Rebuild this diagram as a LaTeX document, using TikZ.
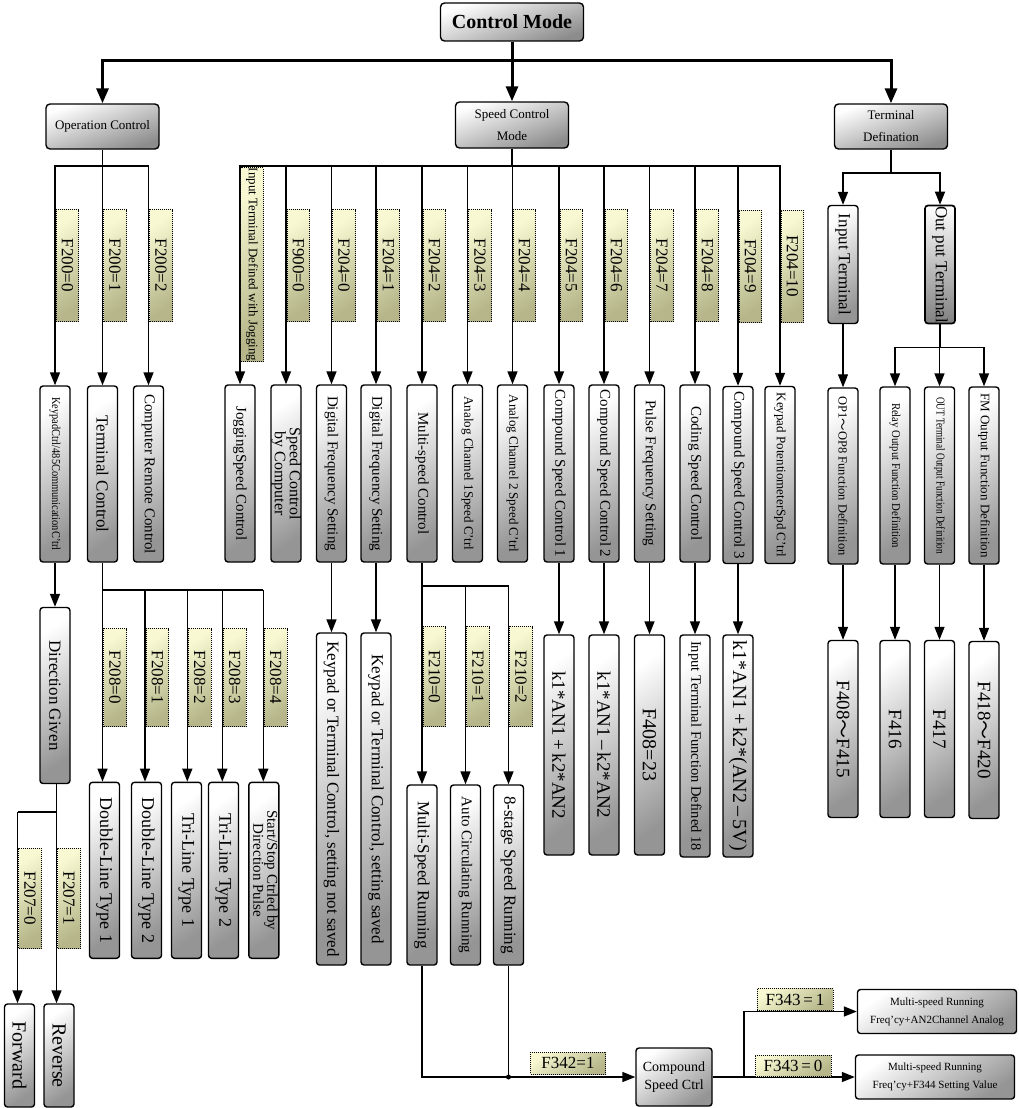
\documentclass[tikz,border=0pt]{standalone}
\usepackage{fontspec}
\setmainfont{Liberation Serif}
\newfontfamily\cjk{Noto Sans CJK SC}
\usepackage{graphicx}
\usetikzlibrary{arrows.meta}
\newcommand\rt[1]{\rotatebox{-90}{#1}}
\newcommand\rtt[2]{\rotatebox{-90}{\begin{tabular}{@{}c@{}}#1\\#2\end{tabular}}}
\newcommand\sqz[2]{\resizebox{#1}{\height}{#2}}
\newcommand\tld{{\cjk ～}}
\newcommand\fs[2]{\fontsize{#1}{#2}\selectfont}
\definecolor{labA}{HTML}{F8F8D2}
\definecolor{labB}{HTML}{B6B68A}
\definecolor{boxB}{HTML}{959595}
\begin{document}
\begin{tikzpicture}[x=1pt,y=-1pt,
  gbox/.style={draw, line width=1.4pt, rounded corners=3pt, inner sep=0pt, top color=white, bottom color=boxB, shading angle=35},
  vb/.style={gbox, minimum width=30pt, font=\fs{15}{17}},
  hb/.style={gbox, rounded corners=4pt, align=center, bottom color=black!45, shading angle=20},
  lab/.style={draw, line width=0.9pt, dash pattern=on 1pt off 1pt, inner sep=0pt, minimum width=22.5pt, top color=labA, bottom color=labB, shading angle=35, font=\fs{17}{19}},
  ln/.style={line width=1.5pt},
  thn/.style={line width=1.2pt},
  arr/.style={ln, -{Triangle[length=13pt,width=10pt]}},
  arrt/.style={thn, -{Triangle[length=13pt,width=10pt]}},
  big/.style={line width=3pt},
  arrb/.style={big, -{Triangle[length=15pt,width=12pt]}},
]
\useasboundingbox (0,0) rectangle (1019,1108);

% ---------- top level
\node[hb, minimum width=143pt, minimum height=38pt, font=\fs{20}{22}\bfseries] (cm) at (512,22) {Control Mode};
\node[hb, minimum width=113pt, minimum height=45pt, font=\fs{13}{15}] (oc) at (102.5,126.5) {Operation Control};
\node[hb, minimum width=113pt, minimum height=46pt, font=\fs{13}{21.5}] (scm) at (512,125) {Speed Control\\Mode};
\node[hb, minimum width=113pt, minimum height=45pt, font=\fs{13}{22}] (td) at (891,126.5) {Terminal\\Defination};
\coordinate (hub) at (512,61);
\draw[big] (cm.south) -- (hub);
\draw[arrb] (hub) -| (oc.north);
\draw[arrb] (hub) -| (td.north);
\draw[arrb] (hub) -- (scm.north);

% ---------- operation control
\node[vb, minimum height=176pt, font=\fs{12}{14}] (kp) at (55,474) {\rt{\sqz{153pt}{KeypadCtrl/485CommunicationC'trl}}};
\node[vb, minimum height=176pt, font=\fs{17}{19}] (tc) at (102.5,474) {\rt{Terminal Control}};
\node[vb, minimum height=176pt] (crc) at (148.5,474) {\rt{Computer Remote Control}};
\coordinate (ob) at (102.5,166);
\draw[ln] (oc.south) -- (ob);
\draw[arr] (ob) -| (kp.north);
\draw[arr] (ob) -- (tc.north);
\draw[arr] (ob) -| (crc.north);
\node[lab, minimum height=112pt] (l200a) at (67.5,265.5) {\rt{F200=0}};
\node[lab, minimum height=112pt] (l200b) at (115,265.5) {\rt{F200=1}};
\node[lab, minimum height=112pt] (l200c) at (161,265.5) {\rt{F200=2}};

% ---------- speed control mode
\coordinate (sb) at (512,166);
\draw[ln] (scm.south) -- (sb);
\node[vb, minimum height=177pt] (jog) at (240,473.5) {\rt{JoggingSpeed Control}};
\node[vb, minimum height=177pt, font=\fs{16}{13}] (spc) at (286,473.5) {\rtt{Speed Control}{by Computer}};
\node[vb, minimum height=177pt] (dfs1) at (331.5,473.5) {\rt{Digital Frequency Setting}};
\node[vb, minimum height=177pt] (dfs2) at (376,473.5) {\rt{Digital Frequency Setting}};
\node[vb, minimum height=177pt] (msc) at (422,473.5) {\rt{Multi-speed Control}};
\node[vb, minimum height=177pt, font=\fs{13}{15}] (ac1) at (467.5,473.5) {\rt{Analog Channel 1Speed C'trl}};
\node[vb, minimum height=177pt, font=\fs{13}{15}] (ac2) at (512.5,473.5) {\rt{Analog Channel 2 Speed C'trl}};
\node[vb, minimum height=177pt] (cs1) at (559,473.5) {\rt{Compound Speed Control 1}};
\node[vb, minimum height=177pt] (cs2) at (604,473.5) {\rt{Compound Speed Control 2}};
\node[vb, minimum height=177pt] (pfs) at (649.5,473.5) {\rt{Pulse Frequency Setting}};
\node[vb, minimum height=177pt] (css) at (695,473.5) {\rt{Coding Speed Control}};
\node[vb, minimum height=177pt] (cs3) at (738,475) {\rt{Compound Speed Control 3}};
\node[vb, minimum height=177pt, font=\fs{13}{15}] (kps) at (780,475) {\rt{Keypad PotentiometerSpd C'trl}};
\foreach \n in {jog,spc,dfs1,dfs2,msc,ac1,ac2,cs1,cs2,pfs,css,cs3,kps}
  \draw[arr] (sb) -| (\n.north);
\node[lab, minimum height=193pt, font=\fs{13}{15}] (ljog) at (252,264.5) {\rt{Input Terminal Defined with Jogging}};
\node[lab, minimum height=112pt] (l900) at (298.5,265.5) {\rt{F900=0}};
\node[lab, minimum height=112pt] (l2040) at (344,265.5) {\rt{F204=0}};
\node[lab, minimum height=112pt] (l2041) at (388.5,265.5) {\rt{F204=1}};
\node[lab, minimum height=112pt] (l2042) at (434.5,265.5) {\rt{F204=2}};
\node[lab, minimum height=112pt] (l2043) at (480,265.5) {\rt{F204=3}};
\node[lab, minimum height=112pt] (l2044) at (524.5,265.5) {\rt{F204=4}};
\node[lab, minimum height=112pt] (l2045) at (571.5,265.5) {\rt{F204=5}};
\node[lab, minimum height=112pt] (l2046) at (616.5,265.5) {\rt{F204=6}};
\node[lab, minimum height=112pt] (l2047) at (662,265.5) {\rt{F204=7}};
\node[lab, minimum height=112pt] (l2048) at (707.5,265.5) {\rt{F204=8}};
\node[lab, minimum height=112pt] (l2049) at (750.5,266) {\rt{F204=9}};
\node[lab, minimum height=112pt] (l20410) at (792.5,266) {\rt{F204=10}};

% ---------- terminal definition
\coordinate (tj) at (891,173);
\draw[thn] (td.south) -- (tj);
\node[vb, minimum height=118pt, font=\fs{17}{19}] (it) at (843,264.5) {\rt{Input Terminal}};
\node[vb, minimum height=118pt, font=\fs{17}{19}, line width=1.7pt, bottom color=black!50] (ot) at (940,264.5) {\rt{Out put Terminal}};
\draw[arr] (tj) -| (it.north);
\draw[arr] (tj) -| (ot.north);
\node[vb, minimum height=176pt, font=\fs{12.5}{14}] (op) at (843,476) {\rt{OP1\tld OP8 Function Definition}};
\draw[arrt] (it.south) -- (op.north);
\coordinate (oj) at (940,347.7);
\draw[thn] (ot.south) -- (oj);
\node[vb, minimum height=177pt, font=\fs{12}{14}] (rel) at (895,475.5) {\rt{\sqz{145pt}{Relay Output Function Definition}}};
\node[vb, minimum height=177pt, font=\fs{12}{14}] (outd) at (939.5,475.5) {\rt{\sqz{157pt}{OUT Terminal Output Function Definition}}};
\node[vb, minimum height=177pt, font=\fs{13}{15}] (fm) at (984,475.5) {\rt{FM Output Function Definition}};
\draw[arr] (oj) -| (rel.north);
\draw[arr] (oj) -| (outd.north);
\draw[arr] (oj) -| (fm.north);
\node[vb, minimum height=177pt, font=\fs{19}{21}] (f408) at (843,729) {\rt{F408\tld F415}};
\node[vb, minimum height=177pt, font=\fs{19}{21}] (f416) at (895,729) {\rt{F416}};
\node[vb, minimum height=177pt, font=\fs{19}{21}] (f417) at (939.5,729) {\rt{F417}};
\node[vb, minimum height=177pt, font=\fs{19}{21}] (f418) at (984,730) {\rt{F418\tld F420}};
\draw[arrt] (op.south) -- (f408.north);
\draw[arrt] (rel.south) -- (f416.north);
\draw[arrt] (outd.south) -- (f417.north);
\draw[arrt] (fm.south) -- (f418.north);

% ---------- direction
\node[vb, minimum height=176pt, font=\fs{17}{19}] (dg) at (55,695.5) {\rt{Direction Given}};
\draw[arr] (kp.south) -- (dg.north);
\coordinate (dj) at (56.5,812);
\coordinate (fj) at (17.5,812);
\draw[ln] (dg.south -| dj) -- (dj) -- (fj);
\node[vb, minimum height=103pt, font=\fs{20}{22}] (fwd) at (19.5,1055.5) {\rt{Forward}};
\node[vb, minimum height=103pt, font=\fs{20}{22}] (rev) at (59,1055.5) {\rt{Reverse}};
\draw[arr] (fj) -- (fj |- fwd.north);
\draw[arr] (dj) -- (dj |- rev.north);
\node[lab, minimum height=100pt] (l2070) at (30,898.3) {\rt{F207=0}};
\node[lab, minimum height=100pt] (l2071) at (69,898.3) {\rt{F207=1}};

% ---------- terminal control types
\coordinate (t1) at (102.5,590);
\coordinate (t2) at (145,590);
\coordinate (t3) at (187.3,590);
\coordinate (t4) at (222.3,590);
\coordinate (t5) at (263.3,590);
\draw[ln] (tc.south) -- (t1) -- (t5);
\node[vb, minimum height=176pt, font=\fs{18}{20}] (dl1) at (104.5,870.3) {\rt{Double-Line Type 1}};
\node[vb, minimum height=176pt, font=\fs{18}{20}] (dl2) at (146.5,870.3) {\rt{Double-Line Type 2}};
\node[vb, minimum height=176pt, font=\fs{18}{20}] (tl1) at (186.5,870.3) {\rt{Tri-Line Type 1}};
\node[vb, minimum height=176pt, font=\fs{18}{20}] (tl2) at (223.5,870.3) {\rt{Tri-Line Type 2}};
\node[vb, minimum height=176pt, font=\fs{15}{12}] (ss) at (263.8,870.3) {\rtt{Start/Stop Ctrled by}{Direction Pulse}};
\draw[arr] (t1) -- (t1 |- dl1.north);
\draw[arr] (t2) -- (t2 |- dl2.north);
\draw[arr] (t3) -- (t3 |- tl1.north);
\draw[arr] (t4) -- (t4 |- tl2.north);
\draw[arr] (t5) -- (t5 |- ss.north);
\node[lab, minimum height=98pt] (l2080) at (115,677.5) {\rt{F208=0}};
\node[lab, minimum height=98pt] (l2081) at (157.5,677.5) {\rt{F208=1}};
\node[lab, minimum height=98pt] (l2082) at (199.8,677.5) {\rt{F208=2}};
\node[lab, minimum height=98pt] (l2083) at (234.8,677.5) {\rt{F208=3}};
\node[lab, minimum height=98pt] (l2084) at (275.8,677.5) {\rt{F208=4}};

% ---------- digital frequency results
\node[vb, minimum height=332pt, font=\fs{17}{19}] (kns) at (331.5,799) {\rt{Keypad or Terminal Control, setting not saved}};
\node[vb, minimum height=332pt, font=\fs{17}{19}] (ks) at (376,799) {\rt{Keypad or Terminal Control, setting saved}};
\draw[arr] (dfs1.south) -- (kns.north);
\draw[arr] (dfs2.south) -- (ks.north);

% ---------- multi-speed
\coordinate (mj) at (422,586);
\draw[ln] (msc.south) -- (mj);
\node[vb, minimum height=180pt, font=\fs{17}{19}] (msr) at (422,875) {\rt{Multi-Speed Running}};
\node[vb, minimum height=180pt] (acr) at (465.5,875) {\rt{Auto Circulating Running}};
\node[vb, minimum height=180pt, font=\fs{17}{19}] (esr) at (508.5,875) {\rt{8-stage Speed Running}};
\draw[arr] (mj) -- (msr.north);
\draw[arr] (mj) -| (acr.north);
\draw[arr] (mj) -| (esr.north);
\node[lab, minimum height=100pt] (l2100) at (434.5,676.7) {\rt{F210=0}};
\node[lab, minimum height=100pt] (l2101) at (478,676.7) {\rt{F210=1}};
\node[lab, minimum height=100pt] (l2102) at (521,676.7) {\rt{F210=2}};

% ---------- compound results
\node[vb, minimum height=220pt, font=\fs{19}{21}] (kadd) at (559,745) {\rt{k1*AN1\,+\,k2*AN2}};
\node[vb, minimum height=220pt, font=\fs{19}{21}] (ksub) at (604,745) {\rt{k1*AN1\,–\,k2*AN2}};
\node[vb, minimum height=220pt, font=\fs{20}{22}] (f423) at (649.5,745) {\rt{F408=23}};
\node[vb, minimum height=222pt, font=\fs{14.5}{16}] (itf) at (695,746) {\rt{Input Terminal Function Defined 18}};
\node[vb, minimum height=222pt, font=\fs{20}{22}] (k5v) at (738,746) {\rt{k1*AN1\,+\,k2*(AN2\,–\,5V)}};
\draw[arr] (cs1.south) -- (kadd.north);
\draw[arr] (cs2.south) -- (ksub.north);
\draw[arr] (pfs.south) -- (f423.north);
\draw[arr] (css.south) -- (itf.north);
\draw[arr] (cs3.south) -- (k5v.north);

% ---------- compound speed control
\node[gbox, minimum width=76pt, minimum height=58pt, align=center, font=\fs{14}{18}] (csc) at (674,1077) {Compound\\Speed Ctrl};
\draw[arr] (msr.south) |- (csc.west);
\draw[ln] (esr.south) -- (esr.south |- csc.west);
\fill (esr.south |- csc.west) circle (2.5pt);
\node[lab, minimum width=75pt, minimum height=22pt] (l342) at (568,1063) {F342=1};
\coordinate (cj) at (744,1077);
\node[gbox, minimum width=159pt, minimum height=44pt, align=center, font=\fs{11}{18}] (mr1) at (937,1011.5) {Multi-speed Running\\Freq'cy+AN2Channel Analog};
\node[gbox, minimum width=159pt, minimum height=44pt, align=center, font=\fs{11}{18}] (mr2) at (935,1077) {Multi-speed Running\\Freq'cy+F344 Setting Value};
\draw[ln] (csc.east) -- (cj);
\draw[arr] (cj) |- (mr1.west);
\draw[arr] (cj) -- (mr2.west);
\node[lab, minimum width=76pt, minimum height=22pt] (l3431) at (795,999.5) {F343\,=\,1};
\node[lab, minimum width=76pt, minimum height=21pt] (l3430) at (793,1065.5) {F343\,=\,0};
\end{tikzpicture}
\end{document}
